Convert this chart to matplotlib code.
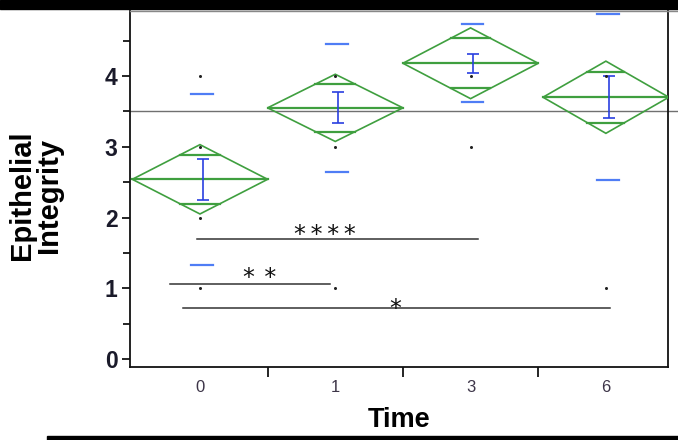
import matplotlib
matplotlib.use("Agg")
import matplotlib.pyplot as plt
from matplotlib.patches import Polygon, Rectangle
from matplotlib.lines import Line2D
import numpy as np

plt.rcParams['font.family'] = ['Liberation Sans', 'DejaVu Sans']

# ---- data ----
groups = ["0", "1", "3", "6"]
means = [2.54, 3.55, 4.18, 3.70]
ci_half = [0.49, 0.475, 0.50, 0.51]          # 95% CI half-width (diamond height)
se = [0.29, 0.22, 0.135, 0.30]               # mean error bars
sd = [1.21, 0.90, 0.55, 1.17]                # std dev lines
diamond_halfwidth = [0.50, 0.50, 0.50, 0.465]
points = {"0": [1, 2, 3, 4], "1": [1, 3, 4], "3": [3, 4], "6": [1, 4]}
grand_mean = 3.505
y_ticks = [0, 1, 2, 3, 4]
y_label = "Epithelial\nIntegrity"
x_label = "Time"
# significance bars: (x_start, x_end, y, label, label_x, label_baseline_y)
sig_bars = [
    (-0.02, 2.055, 1.696, "*\u2009*\u2009*\u2009*", 0.924, 1.66),
    (-0.22, 0.96, 1.06, "*\u2009\u2009*", 0.44, 1.04),
    (-0.125, 3.03, 0.72, "*", 1.44, 0.61),
]

green = "#3f9f3f"
blue_dark = "#2a3fe0"
blue_light = "#4f7df5"

fig = plt.figure(figsize=(6.78, 4.40), dpi=100)
W, H = 678, 440
ax = fig.add_axes([130 / W, 1 - 367 / H, (668 - 130) / W, (367 - 11) / H])
ax.set_xlim(-0.517, 3.459)
ax.set_ylim(-0.113, 4.919)

pos = np.arange(len(groups))

# grand mean line extending beyond the right spine
ax.add_line(Line2D([0, (678 - 130) / 538], [grand_mean, grand_mean],
                   transform=ax.get_yaxis_transform(), color="#707070",
                   lw=1.0, clip_on=False, zorder=2))

for i, g in enumerate(groups):
    x = pos[i]
    m, c, w = means[i], ci_half[i], diamond_halfwidth[i]
    dia = Polygon([[x - w, m], [x, m + c], [x + w, m], [x, m - c]], closed=True,
                  fill=False, edgecolor=green, lw=1.2, zorder=3)
    ax.add_patch(dia)
    ax.plot([x - w, x + w], [m, m], color=green, lw=1.6, zorder=3)
    ov = c / np.sqrt(2)
    hw = w * (1 - ov / c)
    for yy in (m + ov, m - ov):
        ax.plot([x - hw, x + hw], [yy, yy], color=green, lw=1.6, zorder=3)
    # SE error bar
    ax.errorbar([x + 0.02], [m], yerr=[se[i]], color=blue_dark, lw=1.2,
                capsize=4, capthick=1.2, zorder=4)
    # SD lines
    for yy in (m + sd[i], m - sd[i]):
        ax.plot([x - 0.065, x + 0.095], [yy, yy], color=blue_light, lw=1.6,
                zorder=4, clip_on=True)
    # data points
    ax.plot([x] * len(points[g]), points[g], 'o', color="#222222", ms=2.2,
            mec="none", zorder=5)

for x0, x1, yy, lab, lx, ly in sig_bars:
    ax.plot([x0, x1], [yy, yy], color="#333333", lw=1.1, zorder=3)
    ax.text(lx, ly, lab, ha="center", va="baseline", fontsize=17,
            family=["DejaVu Sans"], color="#111111")

# axes styling
for s in ("left", "bottom", "right"):
    ax.spines[s].set_color("#111111")
    ax.spines[s].set_linewidth(1.3)
ax.spines["top"].set_color("#888888")
ax.spines["top"].set_linewidth(1.0)

ax.set_yticks(y_ticks)
ax.set_yticklabels([str(t) for t in y_ticks], fontsize=16.5, fontweight="bold",
                   color="#1a1a2a")
ax.set_yticks(np.arange(0.5, 4.6, 1.0), minor=True)
ax.tick_params(axis="y", which="major", length=6, width=1.2, pad=3, direction="out")
ax.tick_params(axis="y", which="minor", length=5, width=1.2, direction="out")

# x: boundary ticks (no labels) and category labels at centers
ax.set_xticks([0.5, 1.5, 2.5])
ax.set_xticklabels([])
ax.set_xticks(pos, minor=True)
ax.set_xticklabels(groups, minor=True, fontsize=12, color="#3d3548")
ax.tick_params(axis="x", which="major", length=7, width=1.2, direction="out")
ax.tick_params(axis="x", which="minor", length=0, pad=9)

ax.set_ylabel(y_label, fontsize=21, fontweight="bold", linespacing=0.95)
ax.yaxis.set_label_coords((63 - 130) / 538, (367 - 195) / 356)
ax.set_xlabel(x_label, fontsize=19.5, fontweight="bold", labelpad=9)

# decorations: black band at top, grey top line extension, bottom black rule
fig.patches.append(Rectangle((0, 1 - 9 / H), 1, 9 / H, transform=fig.transFigure,
                             color="black", zorder=10))
fig.lines.append(Line2D([668 / W, 1], [1 - 11 / H, 1 - 11 / H], transform=fig.transFigure,
                        color="#888888", lw=1.0))
fig.patches.append(Rectangle((47 / W, 0), 1 - 47 / W, 4 / H, transform=fig.transFigure,
                             color="black", zorder=10))

fig.savefig("out.png", dpi=100)
